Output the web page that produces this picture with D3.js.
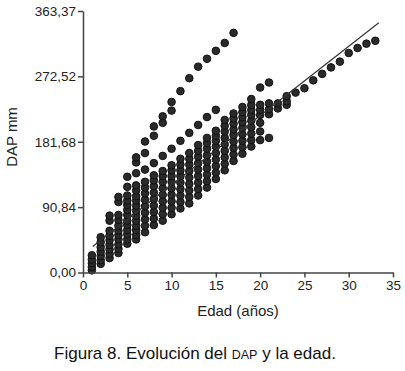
<!DOCTYPE html>
<html lang="es">
<head>
    <meta charset="UTF-8">
    <title>Evolución del DAP y la edad</title>
    <script src="https://d3js.org/d3.v7.min.js"></script>
    <style>
        body {
            margin: 0;
            background-color: #ffffff;
            font-family: "Liberation Sans", Arial, sans-serif;
        }
        .axis path, .axis line {
            stroke: #444;
            stroke-width: 1.5px;
        }
        .axis text {
            font-size: 13.5px;
            fill: #222;
            font-family: "Liberation Sans", Arial, sans-serif;
        }
        .punto {
            fill: #2a2a2a;
            stroke: #111;
            stroke-width: 1px;
        }
        .ajuste {
            fill: none;
            stroke: #333;
            stroke-width: 1.2px;
        }
        .titulo {
            font-size: 15px;
            fill: #222;
        }
    </style>
</head>
<body>
    <div id="chart"></div>

    <script>
        // datos: edad (años) y DAP (mm) por columna
        const edades = [1, 2, 3, 4, 5, 6, 7, 8, 9, 10, 11, 12, 13, 14, 15, 16, 17,
                        18, 19, 20, 21, 22, 23, 24, 25, 26, 27, 28, 29, 30, 31, 32, 33];
        const dap = [
            [3, 8, 13, 18, 24],
            [12, 17, 23, 29, 35, 42, 49],
            [20, 26, 32, 38, 45, 51, 58, 72, 79],
            [27, 33, 39, 46, 52, 58, 65, 73, 80, 98, 105],
            [40, 46, 53, 59, 66, 72, 80, 87, 94, 100, 107, 119, 133],
            [46, 52, 59, 65, 72, 79, 86, 93, 100, 106, 114, 121, 138, 153, 160],
            [56, 65, 74, 83, 92, 101, 110, 118, 126, 143, 166, 182],
            [66, 75, 84, 93, 102, 111, 120, 128, 135, 152, 190, 203],
            [72, 81, 90, 99, 108, 117, 126, 134, 141, 162, 208, 217],
            [81, 90, 99, 108, 117, 126, 134, 142, 149, 172, 225, 237],
            [89, 98, 107, 116, 125, 134, 142, 150, 158, 183, 252],
            [96, 105, 114, 123, 132, 141, 150, 158, 166, 194, 270],
            [107, 116, 125, 134, 143, 152, 161, 169, 177, 205, 286],
            [118, 127, 136, 145, 154, 163, 172, 180, 187, 216, 297],
            [130, 139, 148, 157, 166, 175, 183, 190, 197, 226, 308],
            [142, 151, 160, 169, 178, 187, 196, 204, 212, 319],
            [155, 164, 173, 182, 191, 199, 207, 214, 221, 333],
            [165, 174, 183, 192, 201, 209, 216, 223, 230],
            [175, 184, 193, 202, 211, 219, 226, 233, 241],
            [184, 196, 208, 219, 226, 233, 257],
            [187, 220, 227, 235, 264],
            [228, 235],
            [233, 238, 245],
            [250],
            [256],
            [267],
            [276],
            [285],
            [293],
            [305],
            [312],
            [318],
            [322]
        ];

        // recta de ajuste (extremos)
        const ajusteEdad = [1.1, 33.4];
        const ajusteDap = [36, 347];

        // ejes
        const xTicks = [0, 5, 10, 15, 20, 25, 30, 35];
        const yTicks = [0, 90.84, 181.68, 272.52, 363.37];
        const yTickLabels = ["0,00", "90,84", "181,68", "272,52", "363,37"];

        const width = 405;
        const height = 371;
        const margin = { top: 11, right: 12, bottom: 98.5, left: 83 };

        const svg = d3.select("#chart")
            .append("svg")
            .attr("width", width)
            .attr("height", height);

        const x = d3.scaleLinear()
            .domain([0, 35])
            .range([margin.left, width - margin.right]);

        const y = d3.scaleLinear()
            .domain([0, 363.37])
            .range([height - margin.bottom, margin.top]);

        // puntos
        const puntos = [];
        edades.forEach((e, i) => {
            dap[i].forEach(v => puntos.push({ edad: e, dap: v }));
        });

        svg.append("g")
            .selectAll("circle")
            .data(puntos)
            .enter()
            .append("circle")
            .attr("class", "punto")
            .attr("cx", d => x(d.edad))
            .attr("cy", d => y(d.dap))
            .attr("r", 3.8);

        // recta de regresion
        svg.append("line")
            .attr("class", "ajuste")
            .attr("x1", x(ajusteEdad[0]))
            .attr("y1", y(ajusteDap[0]))
            .attr("x2", x(ajusteEdad[1]))
            .attr("y2", y(ajusteDap[1]));

        // eje x
        svg.append("g")
            .attr("class", "axis")
            .attr("transform", `translate(0,${height - margin.bottom})`)
            .call(d3.axisBottom(x).tickValues(xTicks).tickSize(5).tickSizeOuter(0).tickPadding(3));

        // eje y
        svg.append("g")
            .attr("class", "axis")
            .attr("transform", `translate(${margin.left},0)`)
            .call(d3.axisLeft(y).tickValues(yTicks)
                .tickFormat((d, i) => yTickLabels[i])
                .tickSize(5).tickSizeOuter(0).tickPadding(2));

        // titulos de ejes
        svg.append("text")
            .attr("class", "titulo")
            .attr("x", (margin.left + width - margin.right) / 2)
            .attr("y", 316)
            .attr("text-anchor", "middle")
            .text("Edad (años)");

        svg.append("text")
            .attr("class", "titulo")
            .attr("transform", `translate(17,137) rotate(-90)`)
            .attr("text-anchor", "middle")
            .text("DAP mm");

        // pie de figura
        const pie = svg.append("text")
            .attr("x", 195)
            .attr("y", 359)
            .attr("text-anchor", "middle")
            .style("font-size", "17px")
            .style("fill", "#111");
        pie.append("tspan").text("Figura 8. Evolución del ");
        pie.append("tspan").style("font-size", "12.5px").text("DAP");
        pie.append("tspan").text(" y la edad.");
    </script>
</body>
</html>
